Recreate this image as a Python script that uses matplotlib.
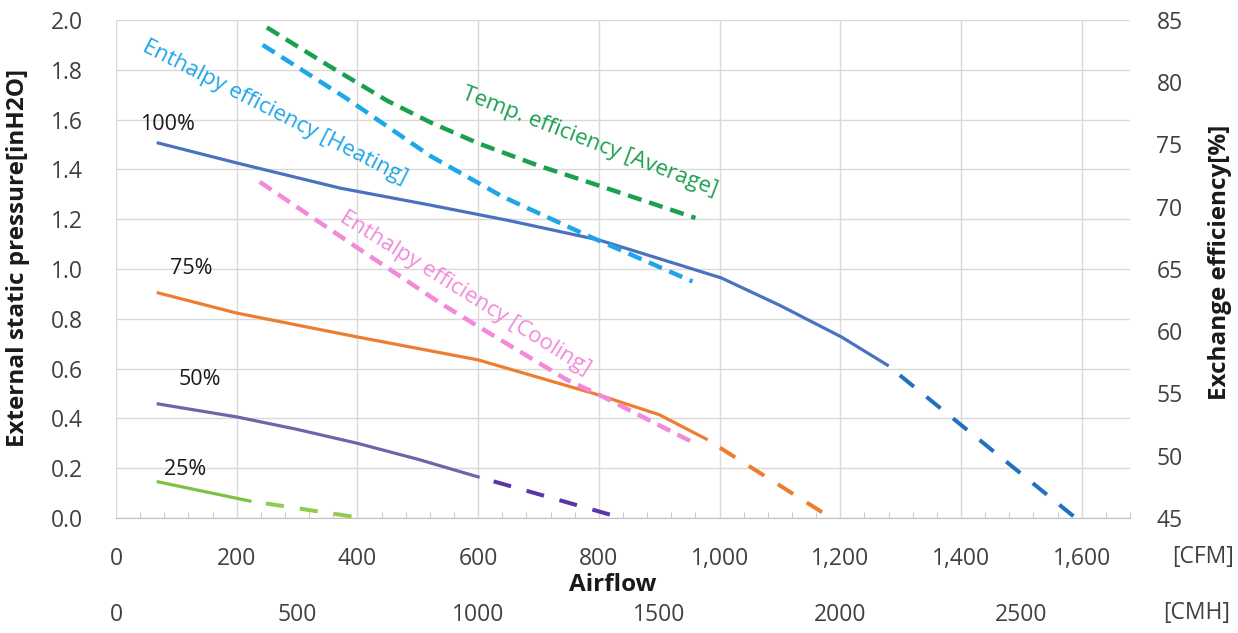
import matplotlib
matplotlib.use("Agg")
import matplotlib.pyplot as plt
import numpy as np

plt.rcParams['font.family'] = ['Open Sans', 'DejaVu Sans']

# fan curves, airflow in CFM vs external static pressure in inH2O
cfm_100 = [70, 200, 371, 520, 650, 801, 934, 1003, 1099, 1202, 1278]
p_100 = [1.506, 1.426, 1.325, 1.257, 1.195, 1.116, 1.016, 0.964, 0.855, 0.727, 0.614]
cfm_100_ext = [1278, 1590]
p_100_ext = [0.614, 0.0]

cfm_75 = [70, 200, 400, 600, 800, 900, 978]
p_75 = [0.904, 0.823, 0.727, 0.635, 0.494, 0.415, 0.317]
cfm_75_ext = [978, 1185]
p_75_ext = [0.317, 0.0]

cfm_50 = [70, 200, 300, 400, 500, 600]
p_50 = [0.458, 0.406, 0.356, 0.30, 0.236, 0.165]
cfm_50_ext = [600, 838]
p_50_ext = [0.165, 0.0]

cfm_25 = [70, 222]
p_25 = [0.145, 0.068]
cfm_25_ext = [222, 407]
p_25_ext = [0.068, 0.0]

# exchange efficiency [%]
temp_cfm = [250, 350, 450, 520, 600, 700, 800, 960]
temp_eff = [84.4, 81.4, 78.5, 76.8, 75.1, 73.3, 71.7, 69.1]
heat_cfm = [243, 382, 520, 641, 785, 955]
heat_eff = [83.0, 78.7, 74.1, 70.8, 67.6, 64.0]
cool_cfm = [238, 400, 536, 603, 747, 796, 959]
cool_eff = [72.0, 66.7, 62.3, 60.3, 56.1, 55.0, 51.0]

cfm_ticks = [0, 200, 400, 600, 800, 1000, 1200, 1400, 1600]
cfm_labels = ["0", "200", "400", "600", "800", "1,000", "1,200", "1,400", "1,600"]
cmh_ticks = [0, 500, 1000, 1500, 2000, 2500]

W, H = 1238, 633
fig = plt.figure(figsize=(W / 100, H / 100), dpi=100)
ax = fig.add_axes([116 / W, 1 - 518 / H, (1130 - 116) / W, (518 - 20) / H])

lw = 2.3
ext = (4.5, (4.5, 4.0))
ax.plot(cfm_100, p_100, color="#4A72C0", lw=lw, zorder=3)
ax.plot(cfm_100_ext, p_100_ext, color="#2171C0", lw=lw + 0.6, ls=ext, zorder=3)
ax.plot(cfm_75, p_75, color="#ED7D31", lw=lw, zorder=3)
ax.plot(cfm_75_ext, p_75_ext, color="#ED7D31", lw=lw + 0.6, ls=ext, zorder=3)
ax.plot(cfm_50, p_50, color="#7462A8", lw=lw, zorder=3)
ax.plot(cfm_50_ext, p_50_ext, color="#5B35A8", lw=lw + 0.6, ls=ext, zorder=3)
ax.plot(cfm_25, p_25, color="#7CC242", lw=lw, zorder=3)
ax.plot(cfm_25_ext, p_25_ext, color="#8FCC50", lw=lw + 0.6, ls=ext, zorder=3)

ax.set_xlim(0, 1680)
ax.set_ylim(0, 2.0)
ax.set_xticks(cfm_ticks)
ax.set_xticklabels(cfm_labels)
ax.set_xticks(np.arange(0, 1681, 40), minor=True)
ax.set_yticks(np.arange(0, 2.01, 0.2))
ax.set_yticklabels([f"{v:.1f}" for v in np.arange(0, 2.01, 0.2)])
ax.grid(True, color="#D9D9D9", lw=1.0, zorder=0)
for s in ["top", "right", "left"]:
    ax.spines[s].set_visible(False)
ax.spines["bottom"].set_color("#BFBFBF")
ax.tick_params(axis="y", length=0, pad=24, labelsize=16.5, labelcolor="#404040")
ax.tick_params(axis="x", which="major", length=0, pad=21, labelsize=16.5, labelcolor="#404040")
ax.tick_params(axis="x", which="minor", direction="in", length=4, color="#BFBFBF")

ax2 = ax.twinx()
dash = (0, (3.2, 1.8))
ax2.plot(temp_cfm, temp_eff, color="#1BA050", lw=3.2, ls=dash, zorder=3)
ax2.plot(heat_cfm, heat_eff, color="#1EA6E8", lw=3.2, ls=dash, zorder=3)
ax2.plot(cool_cfm, cool_eff, color="#F28AD9", lw=3.2, ls=dash, zorder=3)
ax2.set_ylim(45, 85)
ax2.set_yticks(np.arange(45, 86, 5))
for s in ax2.spines.values():
    s.set_visible(False)
ax2.tick_params(axis="y", length=0, pad=19, labelsize=16.5, labelcolor="#404040")

cmh = ax.secondary_xaxis("bottom", functions=(lambda x: x * 5 / 3, lambda x: x * 3 / 5))
cmh.set_xticks(cmh_ticks)
cmh.spines["bottom"].set_visible(False)
cmh.tick_params(length=0, pad=61, labelsize=16.5, labelcolor="#404040")

# curve labels
ax.text(86, 1.58, "100%", fontsize=15.5, color="#1a1a1a", ha="center", va="center")
ax.text(124, 1.004, "75%", fontsize=15.5, color="#1a1a1a", ha="center", va="center")
ax.text(139, 0.558, "50%", fontsize=15.5, color="#1a1a1a", ha="center", va="center")
ax.text(114, 0.193, "25%", fontsize=15.5, color="#1a1a1a", ha="center", va="center")
ax.text(263, 1.627, "Enthalpy efficiency [Heating]", fontsize=16, color="#1EA6E8",
        rotation=-27, ha="center", va="center", rotation_mode="anchor")
ax.text(785, 1.51, "Temp. efficiency [Average]", fontsize=16, color="#1BA050",
        rotation=-21, ha="center", va="center", rotation_mode="anchor")
ax.text(578, 0.904, "Enthalpy efficiency [Cooling]", fontsize=16, color="#F28AD9",
        rotation=-32, ha="center", va="center", rotation_mode="anchor")

fig.text(18 / W, 1 - 258 / H, "External static pressure[inH2O]", rotation=90,
         fontsize=17.5, fontweight="bold", color="#1a1a1a", ha="center", va="center")
fig.text(1220 / W, 1 - 262 / H, "Exchange efficiency[%]", rotation=90,
         fontsize=17.5, fontweight="bold", color="#1a1a1a", ha="center", va="center")
fig.text(613 / W, 1 - 585 / H, "Airflow", fontsize=17.5, fontweight="bold",
         color="#1a1a1a", ha="center", va="center")
fig.text(1203 / W, 1 - 557 / H, "[CFM]", fontsize=16.5, color="#404040", ha="center", va="center")
fig.text(1197 / W, 1 - 613 / H, "[CMH]", fontsize=16.5, color="#404040", ha="center", va="center")

fig.savefig("out.png", dpi=100)
